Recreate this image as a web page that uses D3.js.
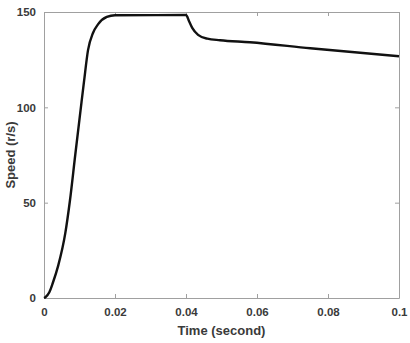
<!DOCTYPE html>
<html>
<head>
<meta charset="utf-8">
<script src="https://cdn.jsdelivr.net/npm/d3@7"></script>
<style>
  body { margin: 0; background: #fff; }
  svg { display: block; font-family: "Liberation Sans", Arial, sans-serif; }
</style>
</head>
<body>
<div id="chart"></div>
<script>
// speed response
const timeVals = [0, 0.0004, 0.0015, 0.0025, 0.004, 0.006, 0.0073, 0.0088, 0.0103, 0.0113, 0.0124, 0.0138, 0.0152, 0.0177, 0.02, 0.04, 0.0409, 0.0418, 0.0434, 0.046, 0.0496, 0.058, 0.075, 0.1];
const speedVals = [0, 0.4, 3, 8, 17, 34, 51, 75, 98.5, 114, 130, 139, 143.5, 147.4, 148.3, 148.4, 145, 141.5, 138, 136, 135.2, 134.1, 131, 126.8];
const xTicks = [0, 0.02, 0.04, 0.06, 0.08, 0.1];
const xTickLabels = ["0", "0.02", "0.04", "0.06", "0.08", "0.1"];
const yTicks = [0, 50, 100, 150];

const dataset = timeVals.map((t, i) => ({ t: t, v: speedVals[i] }));

const dims = {
  width: 410,
  height: 343,
  margin: { top: 12, bottom: 45, left: 44, right: 11 }
};

const svg = d3.select('#chart')
  .append('svg')
  .attr('width', dims.width)
  .attr('height', dims.height);

const x = d3.scaleLinear()
  .domain([0, 0.1])
  .range([dims.margin.left, dims.width - dims.margin.right]);

const y = d3.scaleLinear()
  .domain([0, 150])
  .range([dims.height - dims.margin.bottom, dims.margin.top]);

const axisColor = '#a0a0a0';
const textColor = '#3a3a3a';

function styleAxis(g, labels) {
  g.select('.domain').attr('stroke', axisColor);
  g.selectAll('.tick line').attr('stroke', axisColor);
  g.selectAll('.tick text')
    .attr('fill', labels ? textColor : 'none')
    .style('font-size', '11.5px')
    .style('font-weight', 'bold');
}

// bottom
svg.append('g')
  .attr('transform', `translate(0,${y(0)})`)
  .call(d3.axisBottom(x).tickValues(xTicks).tickFormat((d, i) => xTickLabels[i]).tickSizeInner(-4).tickSizeOuter(0).tickPadding(10))
  .call(g => styleAxis(g, true));

// top
svg.append('g')
  .attr('transform', `translate(0,${y(150)})`)
  .call(d3.axisTop(x).tickValues(xTicks).tickSizeInner(-4).tickSizeOuter(0).tickFormat(''))
  .call(g => styleAxis(g, false));

// left
svg.append('g')
  .attr('transform', `translate(${x(0)},0)`)
  .call(d3.axisLeft(y).tickValues(yTicks).tickSizeInner(-4).tickSizeOuter(0).tickPadding(8))
  .call(g => styleAxis(g, true));

// right
svg.append('g')
  .attr('transform', `translate(${x(0.1)},0)`)
  .call(d3.axisRight(y).tickValues(yTicks).tickSizeInner(-4).tickSizeOuter(0).tickFormat(''))
  .call(g => styleAxis(g, false));

const line = d3.line()
  .x(d => x(d.t))
  .y(d => y(d.v))
  .curve(d3.curveMonotoneX);

svg.append('path')
  .datum(dataset)
  .attr('fill', 'none')
  .attr('stroke', '#111')
  .attr('stroke-width', 2.4)
  .attr('d', line);

svg.append('text')
  .attr('x', (x(0) + x(0.1)) / 2)
  .attr('y', 335)
  .attr('text-anchor', 'middle')
  .attr('fill', textColor)
  .style('font-size', '13px')
  .style('font-weight', 'bold')
  .text('Time (second)');

svg.append('text')
  .attr('transform', `translate(15,${(y(0) + y(150)) / 2}) rotate(-90)`)
  .attr('text-anchor', 'middle')
  .attr('fill', textColor)
  .style('font-size', '13px')
  .style('font-weight', 'bold')
  .text('Speed (r/s)');
</script>
</body>
</html>
